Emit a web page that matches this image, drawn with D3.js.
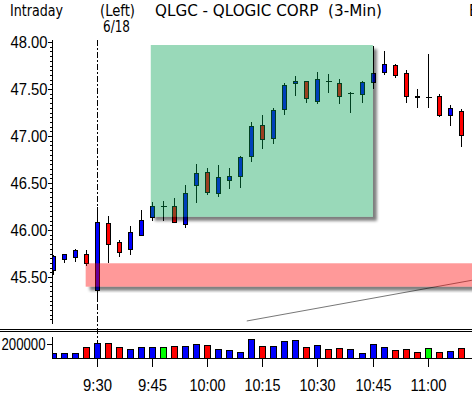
<!DOCTYPE html>
<html>
<head>
<meta charset="utf-8">
<script src="https://cdn.jsdelivr.net/npm/d3@7"></script>
<style>
body { margin: 0; background: #fff; }
svg { display: block; font-family: "Liberation Sans Narrow", "DejaVu Sans Condensed", sans-serif; }
</style>
</head>
<body>
<div id="chart"></div>
<script>
// 3-minute bars, 6/18
var times = ["9:18","9:21","9:24","9:27","9:30","9:33","9:36","9:39","9:42","9:45",
    "9:48","9:51","9:54","9:57","10:00","10:03","10:06","10:09","10:12","10:15",
    "10:18","10:21","10:24","10:27","10:30","10:33","10:36","10:39","10:42","10:45",
    "10:48","10:51","10:54","10:57","11:00","11:03","11:06","11:09"];
var opens  = [45.57,45.69,45.705,45.735,45.355,46.07,45.87,45.795,45.945,46.13,
    46.25,46.255,46.06,46.47,46.615,46.39,46.53,46.565,46.78,47.115,
    46.97,47.28,47.555,47.58,47.365,47.575,47.56,47.455,47.445,47.565,
    47.675,47.755,47.66,47.425,47.41,47.42,47.215,47.265];
var highs  = [45.73,45.745,45.80,45.79,46.24,46.15,45.895,46.045,46.215,46.30,
    46.31,46.34,46.48,46.70,46.66,46.69,46.66,46.785,47.15,47.225,
    47.30,47.56,47.64,47.59,47.68,47.66,47.605,47.47,47.585,47.955,
    47.905,47.765,47.70,47.50,47.87,47.445,47.33,47.285];
var lows   = [45.52,45.65,45.66,45.62,45.255,45.65,45.715,45.735,45.94,46.10,
    46.10,46.07,46.025,46.285,46.375,46.355,46.44,46.445,46.725,46.86,
    46.92,47.225,47.425,47.35,47.345,47.46,47.345,47.25,47.355,47.505,
    47.65,47.62,47.355,47.30,47.30,47.205,47.11,46.88];
var closes = [45.72,45.735,45.785,45.64,46.08,45.85,45.76,45.975,46.105,46.25,
    46.25,46.08,46.39,46.605,46.40,46.56,46.565,46.775,47.10,46.965,
    47.275,47.54,47.58,47.395,47.605,47.575,47.42,47.455,47.57,47.665,
    47.765,47.645,47.42,47.41,47.41,47.215,47.295,47.005];
var volumes = [68000,68000,68000,150000,205000,205000,150000,123000,150000,150000,
    150000,164000,164000,192000,186000,123000,110000,82000,260000,164000,
    164000,233000,247000,150000,178000,123000,137000,123000,68000,192000,
    150000,110000,123000,82000,137000,82000,96000,137000];

var priceTicks = [45.5, 46.0, 46.5, 47.0, 47.5, 48.0];
var volumeTicks = [200000];
var timeTicks = ["9:30","9:45","10:00","10:15","10:30","10:45","11:00"];

// drawn annotations (minutes after midnight, price)
var greenBoxTimes = [584.7, 645.1];
var greenBoxPrices = [46.14, 47.968];
var pinkBoxTimes = [567, 700];
var pinkBoxPrices = [45.397, 45.646];
var trendTimes = [610.8, 672];
var trendPrices = [45.032, 45.465];
var sessionOpen = "9:30";

function toMin(s) { var p = s.split(":"); return +p[0] * 60 + +p[1]; }

var bars = times.map(function(t, i) {
    return { t: toMin(t), o: opens[i], h: highs[i], l: lows[i], c: closes[i], v: volumes[i],
        prev: i > 0 ? closes[i - 1] : opens[i] };
});

var W = 472, H = 394;
var svg = d3.select("#chart").append("svg").attr("width", W).attr("height", H);

var x = d3.scaleLinear().domain([toMin("9:30"), toMin("11:00")]).range([96.7, 427.7]);
var y = d3.scaleLinear().domain([45.5, 48.0]).range([277, 42]);
var yv = d3.scaleLinear().domain([0, 200000]).range([358, 343.7]);

var defs = svg.append("defs");
defs.append("clipPath").attr("id", "plot")
    .append("rect").attr("x", 52.5).attr("y", 0).attr("width", W - 52).attr("height", 328);
defs.append("clipPath").attr("id", "vplot")
    .append("rect").attr("x", 52.5).attr("y", 332).attr("width", W - 52).attr("height", 27);
defs.append("filter").attr("id", "soft").attr("x", "-5%").attr("y", "-5%").attr("width", "110%").attr("height", "110%")
    .append("feGaussianBlur").attr("stdDeviation", 0.7);
defs.append("filter").attr("id", "shade").attr("x", "-10%").attr("y", "-20%").attr("width", "120%").attr("height", "140%")
    .append("feGaussianBlur").attr("stdDeviation", 1.5);

function boxRect(ts, ps) {
    return { x: x(ts[0]), y: y(ps[1]), w: x(ts[1]) - x(ts[0]), h: y(ps[0]) - y(ps[1]) };
}

function fit(sel, w) {
    sel.attr("textLength", w).attr("lengthAdjust", "spacingAndGlyphs");
}

// header
var head = svg.append("g").style("font-size", "16px").attr("fill", "#000");
head.append("text").attr("x", 10).attr("y", 16).text("Intraday").call(fit, 53);
head.append("text").attr("x", 100).attr("y", 16).text("(Left)").call(fit, 35);
head.append("text").attr("x", 103).attr("y", 32).style("font-size", "15px").text("6/18").call(fit, 27);
head.append("text").attr("x", 155).attr("y", 16).attr("xml:space", "preserve")
    .text("QLGC - QLOGIC CORP  (3-Min)").call(fit, 227);
head.append("text").attr("x", 469).attr("y", 16).text("E");

// session open line
svg.append("line")
    .attr("x1", Math.round(x(toMin(sessionOpen))) + 0.5).attr("x2", Math.round(x(toMin(sessionOpen))) + 0.5)
    .attr("y1", 40).attr("y2", 358)
    .attr("stroke", "#000").attr("stroke-dasharray", "6,2,2,2");

var plot = svg.append("g").attr("clip-path", "url(#plot)");

plot.append("line")
    .attr("x1", x(trendTimes[0])).attr("y1", y(trendPrices[0]))
    .attr("x2", x(trendTimes[1])).attr("y2", y(trendPrices[1]))
    .attr("stroke", "#777").attr("stroke-width", 1);

var candle = plot.selectAll(".candle").data(bars).enter().append("g")
    .attr("class", "candle")
    .attr("shape-rendering", "crispEdges")
    .attr("transform", function(d) { return "translate(" + (Math.round(x(d.t)) + 0.5) + ",0)"; });

candle.append("line")
    .attr("y1", function(d) { return y(d.h); })
    .attr("y2", function(d) { return y(d.l); })
    .attr("stroke", "#000");

candle.filter(function(d) { return d.o !== d.c; }).append("rect")
    .attr("x", -2).attr("width", 4)
    .attr("y", function(d) { return y(Math.max(d.o, d.c)); })
    .attr("height", function(d) { return Math.max(1, Math.abs(y(d.o) - y(d.c))); })
    .attr("fill", function(d) { return d.c > d.o ? "#0000ff" : "#ff0000"; })
    .attr("stroke", "#000");

candle.filter(function(d) { return d.o === d.c; }).append("line")
    .attr("x1", -3).attr("x2", 3)
    .attr("y1", function(d) { return y(d.o); })
    .attr("y2", function(d) { return y(d.o); })
    .attr("stroke", "#000");

// highlighted zones with drop shadows
function zone(id, r, fill) {
    var m = defs.append("mask").attr("id", id);
    m.append("rect").attr("x", 0).attr("y", 0).attr("width", W).attr("height", H).attr("fill", "#fff");
    m.append("rect").attr("x", r.x).attr("y", r.y).attr("width", r.w).attr("height", r.h).attr("fill", "#000");
    plot.append("rect")
        .attr("x", r.x + 4).attr("y", r.y + 4).attr("width", r.w).attr("height", r.h)
        .attr("fill", "#000").attr("opacity", 0.5)
        .attr("filter", "url(#shade)").attr("mask", "url(#" + id + ")");
    plot.append("rect")
        .attr("x", r.x).attr("y", r.y).attr("width", r.w).attr("height", r.h)
        .attr("fill", fill).attr("filter", "url(#soft)");
}
zone("mpink", boxRect(pinkBoxTimes, pinkBoxPrices), "rgba(255,0,0,0.4)");
zone("mgreen", boxRect(greenBoxTimes, greenBoxPrices), "rgba(0,160,80,0.4)");

// price axis
var yAxis = d3.axisLeft(y).tickValues(priceTicks).tickFormat(d3.format(".2f")).tickSize(5).tickPadding(0);
var gy = svg.append("g").attr("transform", "translate(52.5,0)")
    .attr("shape-rendering", "crispEdges").call(yAxis);
gy.select(".domain").remove();
gy.selectAll("text").style("font-size", "16px").style("font-family", null).attr("dy", "0.36em").call(fit, 37);
var minor = d3.range(901, 961).map(function(k) { return k / 20; });
svg.append("g").attr("transform", "translate(52.5,0)").attr("shape-rendering", "crispEdges")
    .selectAll("line").data(minor).enter().append("line")
    .attr("x1", -3).attr("x2", 0)
    .attr("y1", function(d) { return Math.round(y(d)) + 0.5; })
    .attr("y2", function(d) { return Math.round(y(d)) + 0.5; })
    .attr("stroke", "#000");
svg.append("line").attr("x1", 52.5).attr("x2", 52.5).attr("y1", 40).attr("y2", 324).attr("stroke", "#000");

// panel separator
svg.append("line").attr("x1", 0).attr("x2", W).attr("y1", 329.5).attr("y2", 329.5).attr("stroke", "#000");
svg.append("line").attr("x1", 0).attr("x2", W).attr("y1", 331.5).attr("y2", 331.5).attr("stroke", "#000");

// volume
svg.append("g").attr("clip-path", "url(#vplot)").attr("shape-rendering", "crispEdges")
    .selectAll("rect").data(bars).enter().append("rect")
    .attr("x", function(d) { return Math.round(x(d.t)) - 3 + 0.5; })
    .attr("width", 6)
    .attr("y", function(d) { return Math.round(yv(d.v)) + 0.5; })
    .attr("height", function(d) { return 358 - Math.round(yv(d.v)); })
    .attr("fill", function(d) { return d.c > d.prev ? "#0000ff" : d.c < d.prev ? "#ff0000" : "#00ff00"; })
    .attr("stroke", "#000");

var vAxis = d3.axisLeft(yv).tickValues(volumeTicks).tickFormat(d3.format("d")).tickSize(6).tickPadding(1);
var gv = svg.append("g").attr("transform", "translate(52.5,0)").attr("shape-rendering", "crispEdges").call(vAxis);
gv.select(".domain").remove();
gv.selectAll("text").style("font-size", "16px").style("font-family", null).attr("dy", "0.36em").call(fit, 44);
svg.append("line").attr("x1", 52.5).attr("x2", 52.5).attr("y1", 337).attr("y2", 358).attr("stroke", "#000");
svg.append("line").attr("x1", 52).attr("x2", W).attr("y1", 358.5).attr("y2", 358.5).attr("stroke", "#000");

// time axis
var xAxis = d3.axisBottom(x).tickValues(timeTicks.map(toMin)).tickSize(8)
    .tickFormat(function(d) { return Math.floor(d / 60) + ":" + d3.format("02")(d % 60); });
var gx = svg.append("g").attr("transform", "translate(0,358.5)").attr("shape-rendering", "crispEdges").call(xAxis);
gx.select(".domain").remove();
gx.selectAll(".tick").attr("transform", function(d) { return "translate(" + (Math.round(x(d)) + 0.5) + ",0)"; });
gx.selectAll("text").style("font-size", "17px").style("font-family", null).attr("y", 32).attr("dy", 0)
    .each(function(d) { d3.select(this).call(fit, d >= 600 ? 36 : 29); });
</script>
</body>
</html>
